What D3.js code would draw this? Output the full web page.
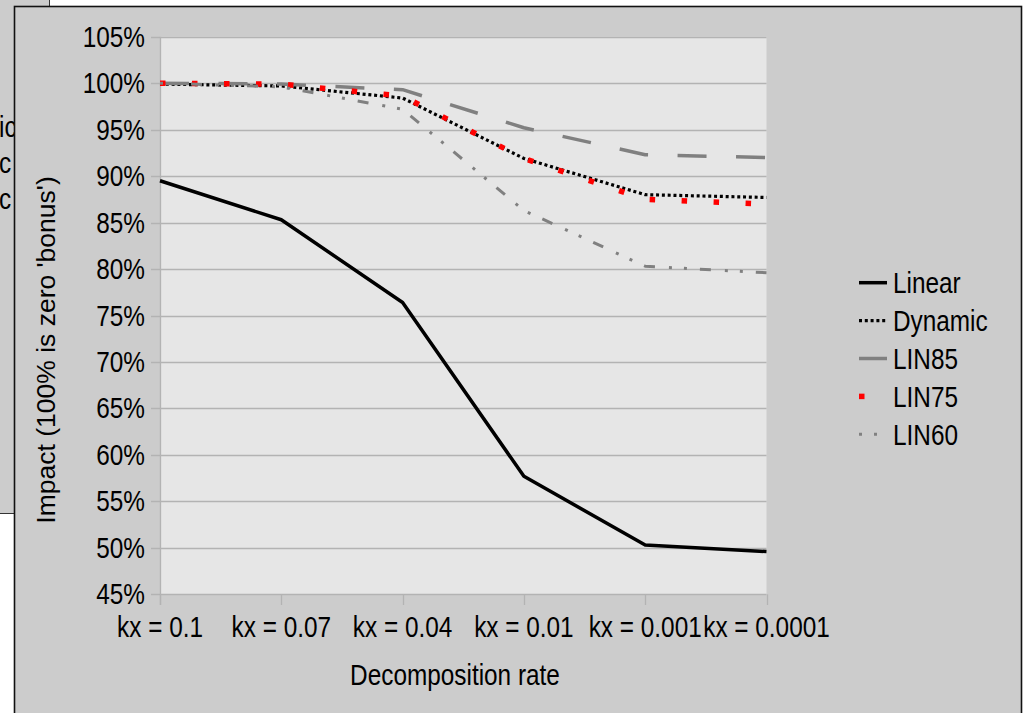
<!DOCTYPE html>
<html>
<head>
<meta charset="utf-8">
<script src="https://cdn.jsdelivr.net/npm/d3@7"></script>
<style>
  body { margin: 0; background: #fff; }
  text { font-family: "Liberation Sans", Arial, sans-serif; fill: #000; }
</style>
</head>
<body>
<script>
const categories = ["kx = 0.1", "kx = 0.07", "kx = 0.04", "kx = 0.01", "kx = 0.001", "kx = 0.0001"];
const linear  = [89.5, 85.3, 76.4, 57.7, 50.3, 49.6];
const dynamic = [99.9, 99.7, 98.4, 91.9, 88.0, 87.7];
const lin85   = [100, 99.9, 99.3, 95.2, 92.3, 92.0];
const lin75   = [100, 99.9, 98.6, 91.9, 87.5, 87.0];
const lin60   = [100, 99.6, 97.2, 86.3, 80.3, 79.6];
const yTicks  = [45, 50, 55, 60, 65, 70, 75, 80, 85, 90, 95, 100, 105];

const w = 1026;
const h = 713;
const fs = 29;      // text looks condensed in the original
const squeeze = 0.84;

function at(px, py) {
  return "translate(" + px + "," + py + ") scale(" + squeeze + ",1)";
}

const svg = d3.select("body")
  .append("svg")
  .attr("width", w)
  .attr("height", h);

// panel behind the chart (left), partly hidden
svg.append("rect")
  .attr("x", -2).attr("y", -2)
  .attr("width", 51.5).attr("height", 515.5)
  .attr("fill", "#cccccc")
  .attr("stroke", "#333").attr("stroke-width", 1);

["ic", "c", "c"].forEach(function (t, i) {
  svg.append("text")
    .attr("transform", at(-1, 137 + i * 36))
    .attr("font-size", fs)
    .text(t);
});

// chart frame
svg.append("rect")
  .attr("x", 14.5).attr("y", 6.5)
  .attr("width", 1007).attr("height", 720)
  .attr("fill", "#cccccc")
  .attr("stroke", "#111").attr("stroke-width", 1.6);

const x = d3.scalePoint()
  .domain(categories)
  .range([160, 766.5]);

const y = d3.scaleLinear()
  .domain([45, 105])
  .range([594.3, 36.7]);

// plot area
svg.append("rect")
  .attr("x", x.range()[0]).attr("y", y(105))
  .attr("width", x.range()[1] - x.range()[0])
  .attr("height", y(45) - y(105))
  .attr("fill", "#e6e6e6");

// gridlines
svg.append("g")
  .selectAll("line")
  .data(yTicks)
  .enter()
  .append("line")
  .attr("x1", 151)
  .attr("x2", x.range()[1])
  .attr("y1", d => Math.round(y(d)) + 0.5)
  .attr("y2", d => Math.round(y(d)) + 0.5)
  .attr("stroke", "#b3b3b3")
  .attr("stroke-width", 1.3);

// y axis line
svg.append("line")
  .attr("x1", 160.5).attr("x2", 160.5)
  .attr("y1", y(105)).attr("y2", 605)
  .attr("stroke", "#b3b3b3").attr("stroke-width", 1.3);

// x ticks
svg.append("g")
  .selectAll("line")
  .data(categories)
  .enter()
  .append("line")
  .attr("x1", d => Math.round(x(d)) + 0.5)
  .attr("x2", d => Math.round(x(d)) + 0.5)
  .attr("y1", y(45))
  .attr("y2", 605)
  .attr("stroke", "#b3b3b3")
  .attr("stroke-width", 1.3);

// y tick labels
svg.append("g")
  .selectAll("text")
  .data(yTicks)
  .enter()
  .append("text")
  .attr("transform", d => at(145, y(d) + 10))
  .attr("text-anchor", "end")
  .attr("font-size", fs)
  .text(d => d + "%");

// x tick labels
svg.append("g")
  .selectAll("text")
  .data(categories)
  .enter()
  .append("text")
  .attr("transform", d => at(x(d), 637))
  .attr("text-anchor", "middle")
  .attr("font-size", fs)
  .text(d => d);

svg.append("text")
  .attr("transform", at(455, 685))
  .attr("text-anchor", "middle")
  .attr("font-size", fs)
  .text("Decomposition rate");

svg.append("text")
  .attr("transform", "translate(55,350) rotate(-90)")
  .attr("text-anchor", "middle")
  .attr("font-size", 26.5)
  .text("Impact (100% is zero 'bonus')");

const series = [
  { name: "Linear",  values: linear,  color: "#000000", width: 3.5, dash: null },
  { name: "Dynamic", values: dynamic, color: "#000000", width: 3.2, dash: "3,2.8" },
  { name: "LIN85",   values: lin85,   color: "#808080", width: 3.5, dash: "29,29.5" },
  { name: "LIN75",   values: lin75,   color: "#ff0000", width: 5.5, dash: "5.5,26.5" },
  { name: "LIN60",   values: lin60,   color: "#808080", width: 3,   dash: "3,12,3,13,11,14" }
];

const line = d3.line()
  .x((d, i) => x(categories[i]))
  .y(d => y(d));

svg.append("g")
  .selectAll("path")
  .data(series)
  .enter()
  .append("path")
  .attr("d", d => line(d.values))
  .attr("fill", "none")
  .attr("stroke", d => d.color)
  .attr("stroke-width", d => d.width)
  .attr("stroke-dasharray", d => d.dash)
  .attr("stroke-linejoin", "round");

// legend
const legend = svg.append("g")
  .selectAll("g")
  .data(series)
  .enter()
  .append("g")
  .attr("transform", (d, i) => "translate(859," + (282.7 + i * 37.9) + ")");

legend.append("line")
  .attr("x1", 0).attr("x2", 28)
  .attr("stroke", d => d.color)
  .attr("stroke-width", d => d.width)
  .attr("stroke-dasharray", d => d.name == "LIN60" ? "3,12" : d.dash);

legend.append("text")
  .attr("transform", at(34, 10.6))
  .attr("font-size", fs)
  .text(d => d.name);
</script>
</body>
</html>
